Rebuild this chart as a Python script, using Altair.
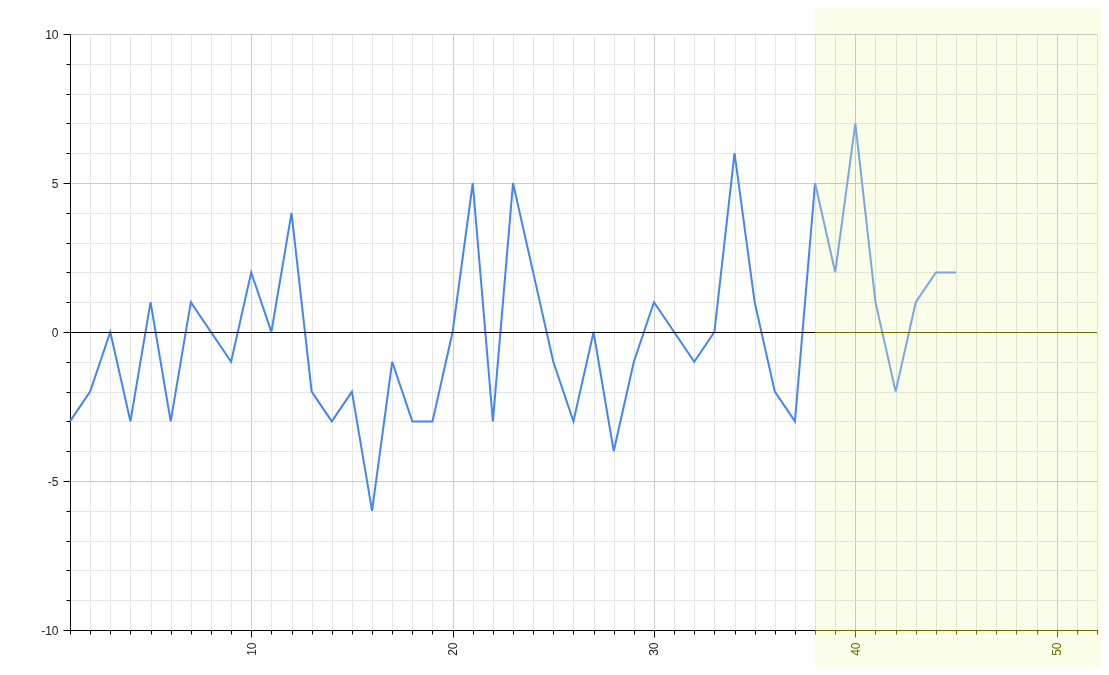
import altair as alt
import pandas as pd

# ---- data ----
x_vals = list(range(1, 46))
y_vals = [-3, -2, 0, -3, 1, -3, 1, 0, -1, 2,
          0, 4, -2, -3, -2, -6, -1, -3, -3, 0,
          5, -3, 5, 2, -1, -3, 0, -4, -1, 1,
          0, -1, 0, 6, 1, -2, -3, 5, 2, 7,
          1, -2, 1, 2, 2]
split_x = 38
x_domain = [1, 52]
y_domain = [-10, 10]
x_tick_values = list(range(1, 53))
y_tick_values = list(range(-10, 11))

rows = []
for x, y in zip(x_vals, y_vals):
    if x <= split_x:
        rows.append({"x": x, "y": y, "part": "past"})
    if x >= split_x:
        rows.append({"x": x, "y": y, "part": "future"})
df = pd.DataFrame(rows)

zero_df = pd.DataFrame([
    {"x": x_domain[0], "x2": split_x, "part": "past"},
    {"x": split_x, "x2": x_domain[1], "part": "future"},
])
band_df = pd.DataFrame([{"x": split_x}])
base_df = pd.DataFrame([{"x": split_x, "x2": x_domain[1]}])

W, H = 1027, 596
PAD_L, PAD_T, PAD_R, PAD_B = 62, 26, 4, 37
OLIVE = "#6b6b00"

xs = alt.Scale(domain=x_domain, nice=False, zero=False)
ys = alt.Scale(domain=y_domain, nice=False, zero=False)

x_axis = alt.Axis(
    values=x_tick_values,
    tickCount=200,
    title=None,
    grid=True,
    gridColor={"condition": {"test": "datum.value % 10 === 0", "value": "#cccccc"}, "value": "#e6e6e6"},
    gridWidth=1,
    domainColor="#000000",
    domainWidth=1,
    tickColor={"condition": {"test": "datum.value >= 38", "value": OLIVE}, "value": "#000000"},
    tickSize={"condition": {"test": "datum.value % 10 === 0", "value": 7}, "value": 4},
    labelExpr="datum.value % 10 === 0 ? '' + datum.value : ''",
    labelAngle=270,
    labelAlign="right",
    labelBaseline="middle",
    labelPadding=5,
    labelColor={"condition": {"test": "datum.value >= 38", "value": OLIVE}, "value": "#222222"},
    labelFont="Liberation Sans",
    labelFontSize=12,
    labelOverlap=False,
    labelFlush=False,
)
y_axis = alt.Axis(
    values=y_tick_values,
    tickCount=200,
    title=None,
    grid=True,
    gridColor={"condition": {"test": "datum.value % 5 === 0", "value": "#cccccc"}, "value": "#e6e6e6"},
    gridWidth=1,
    domainColor="#000000",
    domainWidth=1,
    tickColor="#000000",
    tickSize={"condition": {"test": "datum.value % 5 === 0", "value": 7}, "value": 4},
    labelExpr="datum.value % 5 === 0 ? '' + datum.value : ''",
    labelPadding=5,
    labelColor="#222222",
    labelFont="Liberation Sans",
    labelFontSize=12,
    labelOverlap=False,
    labelFlush=False,
)

band = alt.Chart(band_df).mark_rect(
    fill="#fafde8", blend="multiply", clip=False
).encode(
    x=alt.X("x:Q", scale=xs, axis=x_axis),
    x2=alt.value(W + PAD_R),
    y=alt.value(-PAD_T),
    y2=alt.value(H + PAD_B),
)

line = alt.Chart(df).mark_line(strokeWidth=2).encode(
    x=alt.X("x:Q", scale=xs, axis=x_axis),
    y=alt.Y("y:Q", scale=ys, axis=y_axis),
    color=alt.Color("part:N", scale=alt.Scale(domain=["past", "future"],
                                              range=["#4285f4", "#7aa6e4"]), legend=None),
)

zero = alt.Chart(zero_df).mark_rule(strokeWidth=1, yOffset=0.5).encode(
    x="x:Q",
    x2="x2:Q",
    y=alt.datum(0),
    color=alt.Color("part:N", scale=alt.Scale(domain=["past", "future"],
                                              range=["#000000", OLIVE]), legend=None),
)

base = alt.Chart(base_df).mark_rule(strokeWidth=1, color=OLIVE, yOffset=0.5).encode(
    x="x:Q",
    x2="x2:Q",
    y=alt.datum(y_domain[0]),
)

chart = alt.layer(band, line, zero, base).resolve_scale(color="independent").properties(
    width=W,
    height=H,
    autosize=alt.AutoSizeParams(type="none"),
    padding={"left": PAD_L, "top": PAD_T, "right": PAD_R, "bottom": PAD_B},
    background="white",
).configure_view(stroke=None)

chart.save("out.html", embed_options={"renderer": "svg", "actions": False})
